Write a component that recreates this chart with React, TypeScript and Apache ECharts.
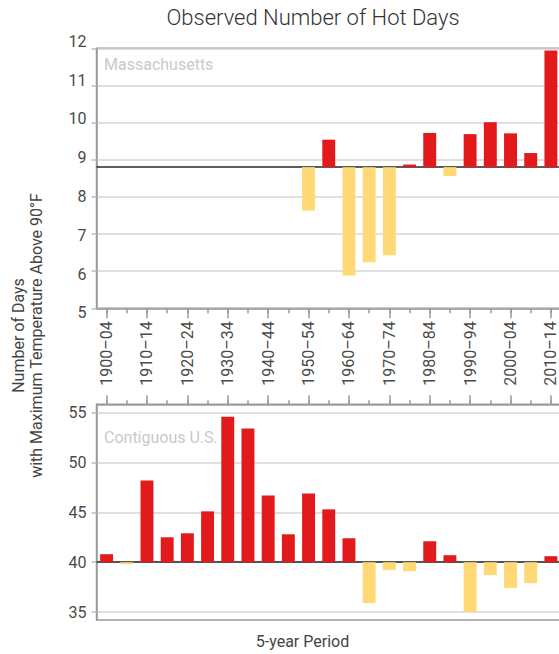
import React, { useEffect, useRef } from "react";
import * as echarts from "echarts";

const categories = [
  "1900–04", "1905–09", "1910–14", "1915–19", "1920–24", "1925–29",
  "1930–34", "1935–39", "1940–44", "1945–49", "1950–54", "1955–59",
  "1960–64", "1965–69", "1970–74", "1975–79", "1980–84", "1985–89",
  "1990–94", "1995–99", "2000–04", "2005–09", "2010–14",
];

const maValues: (number | null)[] = [
  null, null, null, null, null, null, null, null, null, null,
  7.63, 9.54, 5.88, 6.24, 6.43, 8.87, 9.72, 8.56, 9.69, 10.01, 9.71, 9.18, 11.94,
];

const usValues: number[] = [
  40.8, 39.8, 48.2, 42.5, 42.9, 45.1, 54.6, 53.4, 46.7, 42.8, 46.9, 45.3,
  42.4, 35.9, 39.2, 39.1, 42.1, 40.7, 35.0, 38.7, 37.4, 37.9, 40.6,
];

const maBaseline = 8.8;
const usBaseline = 40;
const maTicks = [5, 6, 7, 8, 9, 10, 11, 12];
const usTicks = [35, 40, 45, 50, 55];

const RED = "#e31a1c";
const YELLOW = "#fed976";
const FONT = "Roboto, 'Noto Sans', sans-serif";
const FRAME = "#9a9a9a";
const GRIDLINE = "#d6d6d6";

// vertical nudge (px) of the top chart's y labels, as laid out in the reference
const maLabelNudge: Record<number, number> = {
  5: 4.4, 6: 3, 7: 1.7, 8: -0.4, 9: -2.3, 10: -4.3, 11: -5, 12: -6.6,
};

function makeRender(base: number) {
  return (params: any, api: any) => {
    const v = api.value(1);
    if (v == null || isNaN(v)) return null;
    const i = api.value(0);
    const p0 = api.coord([i, base]);
    const p1 = api.coord([i, v]);
    const w = api.size([1, 0])[0] * 0.64;
    return {
      type: "rect",
      shape: {
        x: p0[0] - w / 2,
        y: Math.min(p0[1], p1[1]),
        width: w,
        height: Math.abs(p1[1] - p0[1]),
      },
      style: { fill: v >= base ? RED : YELLOW },
    };
  };
}

function toData(vals: (number | null)[]) {
  const out: number[][] = [];
  vals.forEach((v, i) => {
    if (v != null) out.push([i, v]);
  });
  return out;
}

function baseLine(base: number) {
  return {
    silent: true,
    symbol: "none",
    label: { show: false },
    lineStyle: { color: "#262626", width: 1.6, type: "solid" },
    data: [{ yAxis: base }],
  };
}

export default function App() {
  const ref = useRef<HTMLDivElement>(null);

  useEffect(() => {
    document.body.style.margin = "0";
    if (!ref.current) return;
    const chart = echarts.init(ref.current, undefined, { renderer: "svg" });

    const xCommon = {
      type: "category",
      data: categories,
      boundaryGap: true,
      splitLine: { show: false },
    };

    const maRich: Record<string, any> = {};
    maTicks.forEach((t) => {
      const d = maLabelNudge[t] || 0;
      maRich["t" + t] = {
        fontSize: 16,
        color: "#4a4a4a",
        fontFamily: FONT,
        padding: d < 0 ? [0, 0, -2 * d, 0] : [2 * d, 0, 0, 0],
      };
    });

    const option: any = {
      animation: false,
      backgroundColor: "#ffffff",
      grid: [
        {
          left: 96.5, right: -2, top: 48.3, height: 260,
          outerBoundsMode: "none",
          show: true, borderColor: FRAME, borderWidth: 1.5,
          backgroundColor: "transparent",
        },
        {
          left: 96.5, right: -2, top: 404.3, height: 215.7,
          outerBoundsMode: "none",
          show: true, borderColor: FRAME, borderWidth: 1.5,
          backgroundColor: "transparent",
        },
      ],
      xAxis: [
        {
          ...xCommon,
          gridIndex: 0,
          position: "bottom",
          axisLine: { show: true, lineStyle: { color: FRAME, width: 1.5 } },
          axisTick: { show: true, alignWithLabel: true, interval: 1, length: 10, lineStyle: { color: FRAME, width: 1.5 } },
          axisLabel: { interval: 1, rotate: 90, fontSize: 16, color: "#4a4a4a", margin: 13, fontFamily: FONT },
        },
        {
          ...xCommon,
          gridIndex: 0,
          position: "bottom",
          axisLine: { show: false },
          axisTick: { show: true, alignWithLabel: true, interval: 0, length: 5, lineStyle: { color: FRAME, width: 1.5 } },
          axisLabel: { show: false },
        },
        {
          ...xCommon,
          gridIndex: 1,
          position: "top",
          axisLine: { show: true, lineStyle: { color: FRAME, width: 1.5 } },
          axisTick: { show: true, alignWithLabel: true, interval: 1, length: 9, lineStyle: { color: FRAME, width: 1.5 } },
          axisLabel: { show: false },
        },
        {
          ...xCommon,
          gridIndex: 1,
          position: "top",
          axisLine: { show: false },
          axisTick: { show: true, alignWithLabel: true, interval: 0, length: 4, lineStyle: { color: FRAME, width: 1.5 } },
          axisLabel: { show: false },
        },
      ],
      yAxis: [
        {
          type: "value",
          gridIndex: 0,
          min: maTicks[0],
          max: maTicks[maTicks.length - 1],
          interval: 1,
          axisLine: { show: true, lineStyle: { color: FRAME, width: 1.5 } },
          axisTick: { show: true, length: 5, lineStyle: { color: "#bdbdbd", width: 1.5 } },
          axisLabel: {
            fontSize: 16, color: "#4a4a4a", margin: 10, fontFamily: FONT,
            formatter: (v: number) => `{t${v}|${v}}`,
            rich: maRich,
          },
          splitLine: { show: true, lineStyle: { color: GRIDLINE, width: 1.5 } },
        },
        {
          type: "value",
          gridIndex: 1,
          min: 34.2,
          max: 55.84,
          axisLine: { show: true, lineStyle: { color: FRAME, width: 1.5 } },
          axisTick: { show: true, length: 5, customValues: usTicks, lineStyle: { color: "#bdbdbd", width: 1.5 } },
          axisLabel: { fontSize: 16, color: "#4a4a4a", margin: 10, fontFamily: FONT, customValues: usTicks },
          splitLine: { show: true, lineStyle: { color: GRIDLINE, width: 1.5 } },
        },
      ],
      series: [
        {
          type: "custom",
          xAxisIndex: 0,
          yAxisIndex: 0,
          renderItem: makeRender(maBaseline),
          data: toData(maValues),
          markLine: baseLine(maBaseline),
          z: 5,
        },
        {
          type: "custom",
          xAxisIndex: 2,
          yAxisIndex: 1,
          renderItem: makeRender(usBaseline),
          data: toData(usValues),
          markLine: baseLine(usBaseline),
          z: 5,
        },
      ],
      graphic: [
        {
          type: "text", x: 313, y: 17,
          style: { text: "Observed Number of Hot Days", fill: "#333", font: `300 22px ${FONT}`, textAlign: "center", textVerticalAlign: "middle" },
        },
        {
          type: "text", x: 104, y: 64,
          style: { text: "Massachusetts", fill: "#c9c9c9", font: `16px ${FONT}`, textAlign: "left", textVerticalAlign: "middle" },
        },
        {
          type: "text", x: 104, y: 437,
          style: { text: "Contiguous U.S.", fill: "#c9c9c9", font: `16px ${FONT}`, textAlign: "left", textVerticalAlign: "middle" },
        },
        {
          type: "text", x: 302.5, y: 641.5,
          style: { text: "5-year Period", fill: "#444", font: `16px ${FONT}`, textAlign: "center", textVerticalAlign: "middle" },
        },
        {
          type: "text", x: 27.5, y: 335.5, rotation: Math.PI / 2,
          style: {
            text: "Number of Days\nwith Maximum Temperature Above 90°F",
            fill: "#444", font: `16px ${FONT}`, lineHeight: 18.5,
            textAlign: "center", textVerticalAlign: "middle",
          },
        },
      ],
    };

    chart.setOption(option);
    return () => chart.dispose();
  }, []);

  return <div ref={ref} style={{ width: 559, height: 654, overflow: "hidden" }} />;
}
